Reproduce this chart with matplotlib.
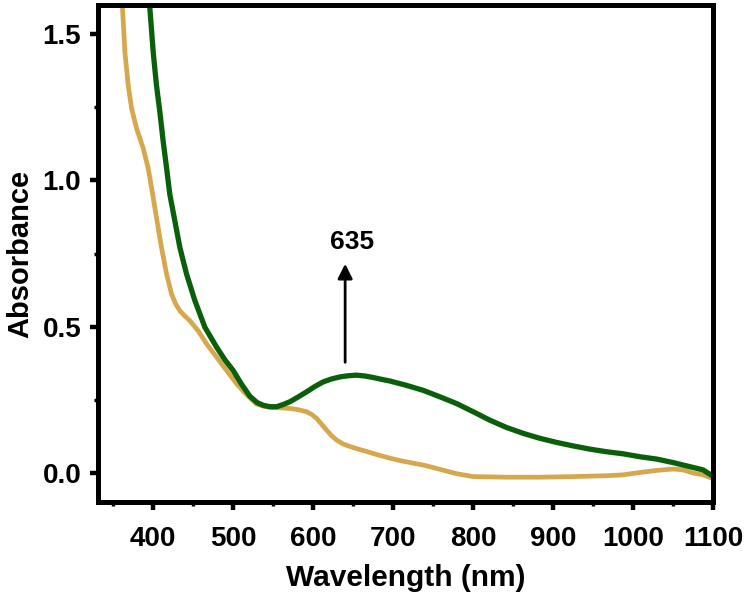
import matplotlib
matplotlib.use("Agg")
import matplotlib.pyplot as plt
from matplotlib.ticker import MultipleLocator, FormatStrFormatter

# Data
green_wl = [394, 395.9, 400, 404.1, 408.3, 412.5, 416.7, 420.8, 427.1, 433.4, 441.7, 452.1,
            464.6, 479.2, 490, 500, 510, 520.8, 530, 537.5, 546, 554.3, 562, 570.9, 581,
            591.8, 602, 612.6, 623, 633.4, 644, 654.3, 665, 675, 685, 695.9, 716.8, 737.6,
            758.4, 779.2, 800, 820.9, 841.8, 862.5, 883.4, 904.3, 925, 945.9, 966.8, 987.5,
            1008.4, 1029.3, 1050, 1070.9, 1087.5, 1100]
green_abs = [1.70, 1.586, 1.439, 1.325, 1.235, 1.133, 1.043, 0.952, 0.861, 0.770, 0.680, 0.589,
             0.498, 0.430, 0.385, 0.350, 0.305, 0.262, 0.240, 0.231, 0.226, 0.226, 0.233, 0.243,
             0.259, 0.277, 0.295, 0.311, 0.321, 0.328, 0.332, 0.334, 0.331, 0.326, 0.320, 0.314,
             0.299, 0.282, 0.260, 0.237, 0.209, 0.180, 0.155, 0.135, 0.118, 0.104, 0.092, 0.081,
             0.072, 0.065, 0.055, 0.047, 0.035, 0.021, 0.010, -0.012]

orange_wl = [359, 361.7, 364.6, 368.8, 373, 379.2, 387.5, 393.7, 398, 402.1, 406.2, 410.4,
             416.7, 422.9, 428, 433.4, 440, 445.9, 456.2, 466.7, 479.2, 491.7, 504.2, 515,
             529.3, 540, 550, 560, 570.9, 581, 591.8, 598, 604.3, 610, 616.8, 623, 629.3,
             637, 645.9, 655, 666.8, 680, 695.9, 710, 725, 740, 758.4, 779.2, 800, 841.8,
             883.4, 925, 966.8, 987.5, 1008.4, 1029.3, 1050, 1062.5, 1075, 1087.5, 1100]
orange_abs = [1.70, 1.586, 1.439, 1.325, 1.246, 1.178, 1.110, 1.042, 0.974, 0.906, 0.838, 0.770,
              0.680, 0.612, 0.578, 0.554, 0.535, 0.520, 0.486, 0.441, 0.396, 0.350, 0.305, 0.272,
              0.235, 0.226, 0.223, 0.222, 0.220, 0.216, 0.209, 0.200, 0.186, 0.168, 0.146, 0.127,
              0.112, 0.099, 0.090, 0.082, 0.073, 0.062, 0.050, 0.041, 0.033, 0.025, 0.012, -0.003,
              -0.013, -0.015, -0.015, -0.013, -0.010, -0.007, 0.001, 0.008, 0.013, 0.010, -0.001,
              -0.007, -0.020]

x_ticks = [400, 500, 600, 700, 800, 900, 1000, 1100]
y_ticks = [0.0, 0.5, 1.0, 1.5]
peak_label = "635"
arrow_x = 640
arrow_y0, arrow_y1 = 0.378, 0.715

plt.rcParams['font.family'] = ['Liberation Sans', 'DejaVu Sans']
plt.rcParams['font.weight'] = 'bold'

fig = plt.figure(figsize=(7.5, 5.98), dpi=100)
ax = fig.add_axes([0.1307, 0.1605, 0.82, 0.831])

ax.plot(orange_wl, orange_abs, color='#d6a74c', lw=3.4, solid_capstyle='round',
        solid_joinstyle='round')
ax.plot(green_wl, green_abs, color='#0a5f0a', lw=3.8, solid_capstyle='round',
        solid_joinstyle='round')

ax.annotate('', xy=(arrow_x, arrow_y1), xytext=(arrow_x, arrow_y0),
            arrowprops=dict(arrowstyle='-|>', color='black', lw=2.0,
                            mutation_scale=22, shrinkA=0, shrinkB=0))
ax.text(arrow_x + 9, 0.79, peak_label, fontsize=19, fontweight='bold',
        ha='center', va='center')

ax.set_xlim(331, 1100)
ax.set_ylim(-0.1, 1.6)
ax.set_xticks(x_ticks)
ax.set_yticks(y_ticks)
ax.yaxis.set_major_formatter(FormatStrFormatter('%.1f'))
ax.xaxis.set_minor_locator(MultipleLocator(50))
ax.yaxis.set_minor_locator(MultipleLocator(0.25))

for s in ax.spines.values():
    s.set_linewidth(3.6)

ax.tick_params(which='major', direction='out', length=6, width=3.2,
               labelsize=20, pad=6)
ax.tick_params(axis='x', which='major', pad=11)
ax.tick_params(which='minor', direction='out', length=3, width=2.5)
for lab in ax.get_xticklabels() + ax.get_yticklabels():
    lab.set_fontweight('bold')

ax.set_xlabel('Wavelength (nm)', fontsize=21.5, fontweight='bold', labelpad=9)
ax.set_ylabel('Absorbance', fontsize=21, fontweight='bold', labelpad=6)

fig.savefig('out.png', dpi=100)
